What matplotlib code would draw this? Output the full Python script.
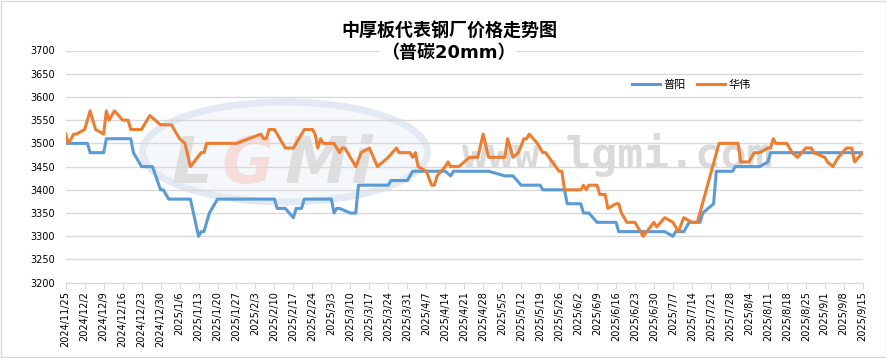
import pandas as pd
import matplotlib.pyplot as plt
from matplotlib.patches import Rectangle, Ellipse

plt.rcParams['font.family'] = ['DejaVu Sans', 'Noto Sans CJK SC']

# 普阳
py_dates = ['2024-11-25', '2024-12-03', '2024-12-04', '2024-12-09', '2024-12-10', '2024-12-19',
            '2024-12-20', '2024-12-23', '2024-12-27', '2024-12-30', '2024-12-31', '2025-01-02',
            '2025-01-10', '2025-01-13', '2025-01-14', '2025-01-15', '2025-01-17', '2025-01-20',
            '2025-02-10', '2025-02-11', '2025-02-14', '2025-02-17', '2025-02-18', '2025-02-20',
            '2025-02-21', '2025-03-03', '2025-03-04', '2025-03-05', '2025-03-06', '2025-03-10',
            '2025-03-12', '2025-03-13', '2025-03-24', '2025-03-25', '2025-03-31', '2025-04-02',
            '2025-04-14', '2025-04-16', '2025-04-17', '2025-04-30', '2025-05-06', '2025-05-09',
            '2025-05-12', '2025-05-19', '2025-05-20', '2025-05-28', '2025-05-29', '2025-06-03',
            '2025-06-04', '2025-06-06', '2025-06-09', '2025-06-16', '2025-06-17', '2025-07-04',
            '2025-07-07', '2025-07-08', '2025-07-11', '2025-07-13', '2025-07-17', '2025-07-18',
            '2025-07-22', '2025-07-23', '2025-07-29', '2025-07-30', '2025-08-08', '2025-08-11',
            '2025-08-12', '2025-09-15']
py_vals = [3500, 3500, 3480, 3480, 3510, 3510,
           3480, 3450, 3450, 3400, 3400, 3380,
           3380, 3300, 3310, 3310, 3350, 3380,
           3380, 3360, 3360, 3340, 3360, 3360,
           3380, 3380, 3350, 3360, 3360, 3350,
           3350, 3410, 3410, 3420, 3420, 3440,
           3440, 3430, 3440, 3440, 3430, 3430,
           3410, 3410, 3400, 3400, 3370, 3370,
           3350, 3350, 3330, 3330, 3310, 3310,
           3300, 3310, 3310, 3330, 3330, 3350,
           3370, 3440, 3440, 3450, 3450, 3460,
           3480, 3480]

# 华伟
hw_dates = ['2024-11-25', '2024-11-26', '2024-11-28', '2024-11-29', '2024-12-02', '2024-12-04',
            '2024-12-06', '2024-12-09', '2024-12-10', '2024-12-11', '2024-12-13', '2024-12-16',
            '2024-12-18', '2024-12-19', '2024-12-23', '2024-12-26', '2024-12-30', '2025-01-03',
            '2025-01-06', '2025-01-08', '2025-01-10', '2025-01-14', '2025-01-15', '2025-01-16',
            '2025-01-27', '2025-02-05', '2025-02-06', '2025-02-07', '2025-02-08', '2025-02-10',
            '2025-02-11', '2025-02-14', '2025-02-17', '2025-02-19', '2025-02-20', '2025-02-21',
            '2025-02-24', '2025-02-25', '2025-02-26', '2025-02-27', '2025-02-28', '2025-03-04',
            '2025-03-06', '2025-03-07', '2025-03-08', '2025-03-12', '2025-03-14', '2025-03-17',
            '2025-03-20', '2025-03-24', '2025-03-27', '2025-03-28', '2025-04-01', '2025-04-02',
            '2025-04-03', '2025-04-04', '2025-04-07', '2025-04-09', '2025-04-10', '2025-04-11',
            '2025-04-14', '2025-04-15', '2025-04-16', '2025-04-19', '2025-04-21', '2025-04-23',
            '2025-04-26', '2025-04-28', '2025-04-30', '2025-05-06', '2025-05-07', '2025-05-09',
            '2025-05-11', '2025-05-13', '2025-05-14', '2025-05-15', '2025-05-18', '2025-05-20',
            '2025-05-21', '2025-05-26', '2025-05-27', '2025-05-28', '2025-06-03', '2025-06-04',
            '2025-06-05', '2025-06-06', '2025-06-09', '2025-06-10', '2025-06-12', '2025-06-13',
            '2025-06-16', '2025-06-17', '2025-06-18', '2025-06-19', '2025-06-20', '2025-06-23',
            '2025-06-26', '2025-06-30', '2025-07-01', '2025-07-04', '2025-07-07', '2025-07-09',
            '2025-07-11', '2025-07-14', '2025-07-16', '2025-07-24', '2025-07-31', '2025-08-01',
            '2025-08-04', '2025-08-06', '2025-08-08', '2025-08-11', '2025-08-12', '2025-08-13',
            '2025-08-14', '2025-08-18', '2025-08-20', '2025-08-22', '2025-08-25', '2025-08-27',
            '2025-08-28', '2025-09-01', '2025-09-02', '2025-09-04', '2025-09-06', '2025-09-09',
            '2025-09-11', '2025-09-12', '2025-09-15']
hw_vals = [3520, 3500, 3520, 3520, 3530, 3570,
           3530, 3520, 3570, 3550, 3570, 3550,
           3550, 3530, 3530, 3560, 3540, 3540,
           3510, 3500, 3450, 3480, 3480, 3500,
           3500, 3520, 3510, 3510, 3530, 3530,
           3520, 3490, 3490, 3510, 3520, 3530,
           3530, 3520, 3490, 3510, 3500, 3500,
           3480, 3490, 3490, 3450, 3480, 3490,
           3450, 3470, 3490, 3480, 3480, 3470,
           3480, 3450, 3440, 3410, 3410, 3430,
           3450, 3460, 3450, 3450, 3460, 3470,
           3470, 3520, 3470, 3470, 3510, 3470,
           3480, 3510, 3510, 3520, 3500, 3480,
           3480, 3440, 3440, 3400, 3400, 3410,
           3400, 3410, 3410, 3390, 3390, 3360,
           3370, 3370, 3350, 3340, 3330, 3330,
           3300, 3330, 3320, 3340, 3330, 3310,
           3340, 3330, 3330, 3500, 3500, 3460,
           3460, 3480, 3480, 3490, 3490, 3510,
           3500, 3500, 3480, 3470, 3490, 3490,
           3480, 3470, 3460, 3450, 3470, 3490,
           3490, 3460, 3480]

start, end = pd.Timestamp('2024-11-25'), pd.Timestamp('2025-09-15')

fig = plt.figure(figsize=(8.87, 3.58), dpi=100)
ax = fig.add_axes([65.7 / 887, 1 - 282.7 / 358, 797 / 887, 232.2 / 358])

# 水印 (LGMI logo + 网址)
ax.add_patch(Ellipse((285 / 887, 1 - 152 / 358), 285 / 887, 100 / 358, transform=fig.transFigure,
                     facecolor='#f5f8fb', edgecolor='#e2e9f2', lw=5, zorder=0.2, clip_on=False))
for ch, xx, col in [('L', 172, '#dedede'), ('G', 222, '#f7dcdc'), ('M', 285, '#dedede'), ('i', 350, '#dedede')]:
    ax.text(xx / 887, 1 - 183 / 358, ch, transform=fig.transFigure, fontsize=46, fontweight='bold',
            style='italic', color=col, zorder=0.3, family='DejaVu Sans')
ax.text(462 / 887, 1 - 168 / 358, 'www.lgmi.com', transform=fig.transFigure, fontsize=31,
        fontweight='bold', family='DejaVu Sans Mono', color='#dadada', zorder=0.3)

ax.plot(pd.to_datetime(py_dates), py_vals, color='#5B9BD5', lw=2.2, label='普阳', zorder=3)
ax.plot(pd.to_datetime(hw_dates), hw_vals, color='#ED7D31', lw=2.2, label='华伟', zorder=3)

ax.set_xlim(start, end)
ax.set_ylim(3200, 3700)
ax.set_yticks(range(3200, 3701, 50))
ticks = pd.date_range(start, end, freq='7D')
ax.set_xticks(ticks)
ax.set_xticklabels([f'{d.year}/{d.month}/{d.day}' for d in ticks], rotation=90, fontsize=7)
ax.tick_params(axis='y', length=0, labelsize=7, pad=8)
ax.tick_params(axis='x', length=4, color='#d9d9d9', pad=2)
ax.yaxis.grid(True, color='#d9d9d9', lw=1)
ax.set_axisbelow(True)
for s in ['top', 'right', 'left']:
    ax.spines[s].set_visible(False)
ax.spines['bottom'].set_color('#d9d9d9')
ax.patch.set_alpha(0)

ax.legend(loc='center', bbox_to_anchor=(0.785, 0.851), ncol=2, frameon=False, fontsize=8,
          handlelength=2.5, handletextpad=0.3, columnspacing=1.1)

fig.text(0.507, 1 - 31.7 / 358, '中厚板代表钢厂价格走势图', ha='center', va='center',
         fontsize=13, fontweight='bold')
fig.text(0.505, 1 - 53.3 / 358, '（普碳20mm）', ha='center', va='center', fontsize=13,
         fontweight='bold', bbox=dict(facecolor='white', edgecolor='none', pad=1))

fig.patches.append(Rectangle((0.0006, 0.0015), 0.9985, 0.996, transform=fig.transFigure,
                             fill=False, edgecolor='#d9d9d9', lw=1))

fig.savefig('out.png', dpi=100)
